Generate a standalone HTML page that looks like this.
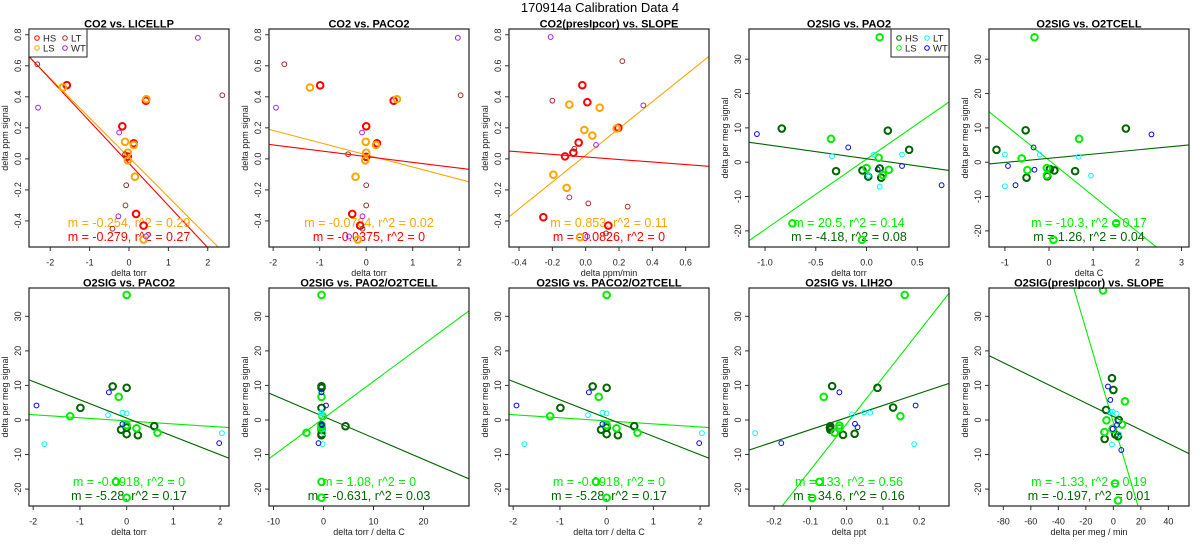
<!DOCTYPE html>
<html><head><meta charset="utf-8">
<style>
html,body{margin:0;padding:0;background:#fff;overflow:hidden;width:1200px;height:550px;}
svg{display:block;font-family:"Liberation Sans",Arial,sans-serif;}
</style></head>
<body>
<svg id="fig" width="1200" height="550" viewBox="0 0 1200 550">
<text x="600" y="12" text-anchor="middle" font-size="13" fill="#000">170914a   Calibration Data 4</text>
</svg>
<script>
// ---- colors ----
const CO2_COLORS = ["#ff0000","#ffa500","#a52a2a","#a020f0"]; // HS, LS, LT, WT
const O2_COLORS = ["#006400","#00ee00","#00ffff","#0000ff"];
const GROUPS = ["HS","LS","LT","WT"];

// ---- panel 1: CO2 vs LICELLP ----
const P1_HS = [[-1.58,0.475],[-0.17,0.21],[0.12,0.10],[-0.03,0.015],[0.43,0.375],[0.18,-0.355],[0.37,-0.43]];
const P1_LS = [[-1.68,0.46],[0.44,0.385],[-0.1,0.11],[0.12,0.09],[-0.03,0.04],[-0.03,-0.01],[0.15,-0.115],[0.37,-0.52]];
const P1_LT = [[-2.33,0.61],[2.37,0.41],[-0.1,0.03],[-0.09,-0.30],[-0.42,-0.45],[-0.07,-0.17]];
const P1_WT = [[1.75,0.78],[-2.31,0.33],[-0.25,0.17],[-0.27,-0.37],[0.43,-0.5]];
const P1_FITS = [[-0.255,0.009],[-0.2715,-0.029]];
const P1_TEXT = ["m = -0.254, r^2 = 0.29","m = -0.279, r^2 = 0.27"];

// ---- panel 2: CO2 vs PACO2 ----
const P2_HS = [[-0.99,0.474],[0.59,0.375],[0,0.21],[0.23,0.10],[0,0.013],[-0.3,-0.355],[-0.13,-0.43]];
const P2_LS = [[-1.21,0.46],[0.66,0.385],[-0.01,0.11],[0.21,0.09],[0,0.04],[-0.02,-0.01],[-0.23,-0.115],[-0.18,-0.52]];
const P2_LT = [[-1.76,0.61],[2.03,0.41],[-0.39,0.03],[0,-0.30],[-0.08,-0.45],[0,-0.17]];
const P2_WT = [[1.97,0.78],[-1.94,0.33],[-0.09,0.17],[-0.08,-0.37],[-0.37,-0.5]];
const P2_FITS = [[-0.0786,0.026],[-0.0374,0.015]];
const P2_TEXT = ["m = -0.0784, r^2 = 0.02","m = -0.0375, r^2 = 0"];

// ---- panel 3: CO2(presIpcor) vs SLOPE ----
const P3_HS = [[-0.254,-0.376],[-0.124,0.016],[-0.074,0.04],[-0.042,0.105],[-0.02,0.475],[0.01,0.365],[0.196,0.2],[0.136,-0.43]];
const P3_LS = [[-0.194,-0.102],[-0.114,-0.187],[-0.098,0.35],[-0.008,0.186],[0.04,0.15],[0.084,0.33],[0.186,0.196],[-0.034,-0.505]];
const P3_LT = [[-0.2,0.375],[0.22,0.63],[-0.068,0.065],[0.252,-0.308],[0.122,-0.48],[0.016,-0.287]];
const P3_WT = [[-0.21,0.785],[0.346,0.345],[0.062,0.09],[-0.098,-0.248],[0.01,-0.5]];
const P3_FITS = [[0.8625,0.023],[-0.082,0.0125]];
const P3_TEXT = ["m = 0.853, r^2 = 0.11","m = -0.0826, r^2 = 0"];

// ---- panel 4: O2SIG vs PAO2 ----
const P4_HS = [[-0.835,9.8],[-0.30,-2.6],[-0.04,-2.4],[0.017,-4.2],[0.13,-1.8],[0.145,-4.5],[0.21,9.2],[0.42,3.6]];
const P4_LS = [[0.13,36.4],[-0.35,6.8],[0,-1.7],[0.12,1.3],[0.16,-3.7],[0.22,-2.2],[-0.73,-17.8],[-0.045,-22.6]];
const P4_LT = [[-0.34,1.7],[0.35,2.2],[0.02,-3.9],[0.13,-7.1],[0.07,2.2]];
const P4_WT = [[-1.08,8.2],[-0.18,4.3],[0.35,-1.1],[0.74,-6.7],[0.11,-2.1]];
const P4_FITS = [[20.5,0.89],[-4.16,0.99]];
const P4_TEXT = ["m = 20.5, r^2 = 0.14","m = -4.18, r^2 = 0.08"];

// ---- panel 5: O2SIG vs O2TCELL ----
const P5_HS = [[-1.19,3.6],[-0.53,9.3],[-0.51,-4.5],[-0.04,-4.1],[0.02,-2.0],[0.12,-2.4],[0.59,-2.6],[1.74,9.8]];
const P5_LS = [[-0.33,36.4],[-0.62,1.1],[-0.49,-2.3],[-0.05,-1.7],[-0.05,-3.8],[0.68,6.8],[1.52,-17.8],[0.1,-22.6]];
const P5_LT = [[-1.0,2.2],[-1.0,-7.0],[0.67,1.6],[0.95,-3.9],[-0.21,2.2]];
const P5_WT = [[-0.93,-1.1],[-0.35,4.3],[-0.33,-2.2],[-0.76,-6.7],[2.32,8.1]];
const P5_FITS = [[-10.4,0.56],[1.22,1.15]];
const P5_TEXT = ["m = -10.3, r^2 = 0.17","m = 1.26, r^2 = 0.04"];

// ---- panel 6 / 8: O2SIG vs PACO2 ----
const P6_HS = [[-0.99,3.5],[-0.3,9.7],[0,9.3],[-0.12,-2.8],[0,-2.2],[0,-4.1],[0.24,-4.4],[0.59,-1.8]];
const P6_LS = [[0,36.2],[-0.17,6.7],[-1.21,1.1],[0,-1.5],[0.21,-2.4],[0.66,-3.7],[-0.23,-17.9],[0,-22.5]];
const P6_LT = [[-1.76,-7.0],[-0.4,1.4],[-0.09,2.1],[2.04,-3.8],[0,1.9]];
const P6_WT = [[-1.93,4.2],[-0.38,8.0],[-0.09,-1.2],[1.98,-6.7]];
const P6_FITS = [[-0.89,-0.26],[-5.3,0.54]];
const P6_TEXT = ["m = -0.0918, r^2 = 0","m = -5.28, r^2 = 0.17"];

// ---- panel 7: O2SIG vs PAO2/O2TCELL ----
const P7_HS = [[-0.4,9.8],[-0.4,9.3],[-0.4,3.5],[-0.4,-2.8],[-0.4,-4.1],[-0.4,-2.2],[-0.4,-4.4],[4.4,-1.8]];
const P7_LS = [[-0.4,36.2],[-0.4,6.7],[-0.2,1.1],[-3.4,-3.7],[-0.4,-2.4],[-0.4,-1.5],[-0.4,-17.9],[-0.4,-22.5]];
const P7_LT = [[-0.4,2.2],[-0.2,-7.0],[0,-3.8],[-0.4,1.4],[-0.4,1.9]];
const P7_WT = [[-0.4,8.0],[0.5,4.2],[-0.4,-1.2],[-1,-6.7],[-0.3,-1.5]];
const P7_FITS = [[1.07,0.46],[-0.62,1.0]];
const P7_TEXT = ["m = 1.08, r^2 = 0","m = -0.631, r^2 = 0.03"];

// ---- panel 9: O2SIG vs LIH2O ----
const P9_HS = [[-0.04,9.8],[0.085,9.3],[0.128,3.6],[-0.046,-2.3],[-0.045,-1.8],[-0.01,-4.3],[0.022,-4.0],[-0.045,-2.8]];
const P9_LS = [[0.16,36.2],[-0.063,6.7],[0.148,1.1],[-0.02,-1.6],[-0.02,-2.4],[-0.033,-3.7],[-0.075,-17.9],[-0.095,-22.6]];
const P9_LT = [[-0.252,-3.8],[0.015,1.6],[0.065,2.1],[0.186,-7.0],[0.048,2.2]];
const P9_WT = [[-0.18,-6.7],[-0.02,8.0],[0.023,-1.1],[0.03,-2.1],[0.19,4.2]];
const P9_FITS = [[134,-1.1],[35,0.7]];
const P9_TEXT = ["m = 133, r^2 = 0.56","m = 34.6, r^2 = 0.16"];

// ---- panel 10: O2SIG(presIpcor) vs SLOPE ----
const P10_HS = [[-1,12.1],[0,8.7],[-5.3,2.9],[3.9,0],[1.4,-4.2],[3.4,-4.7],[-0.5,-2.6],[-6.3,-5.5]];
const P10_LS = [[-7.5,37.5],[8.4,5.4],[-5,-0.1],[-6.5,-3.5],[6.3,-1.3],[1.2,-18.4],[3.4,-23.3],[-0.5,-2.6]];
const P10_LT = [[-2.2,2.3],[2.4,1.8],[4.3,-4.1],[-1,-7.1],[-0.5,2.4]];
const P10_WT = [[-3.9,9.7],[-2.2,5.8],[2.7,-1.4],[-0.5,-2.6],[5.8,-8.7]];
const P10_FITS = [[-1.35,-0.7],[-0.195,1.0]];
const P10_TEXT = ["m = -1.33, r^2 = 0.19","m = -0.197, r^2 = 0.01"];

// ---- axis tick labels ----
const CO2_YTICKS = [-0.4,-0.2,0.0,0.2,0.4,0.6,0.8];
const CO2_YLABELS = ["-0.4","-0.2","0.0","0.2","0.4","0.6","0.8"];
const O2_YTICKS = [-20,-10,0,10,20,30];
const TORR_XTICKS = [-2,-1,0,1,2];
const SLOPE_XTICKS = [-0.4,-0.2,0,0.2,0.4,0.6];
const SLOPE_XLABELS = ["-0.4","-0.2","0.0","0.2","0.4","0.6"];
const PAO2_XTICKS = [-1.0,-0.5,0,0.5];
const PAO2_XLABELS = ["-1.0","-0.5","0.0","0.5"];
const TCELL_XTICKS = [-1,0,1,2,3];
const RATIO_XTICKS = [-10,0,10,20];
const H2O_XTICKS = [-0.2,-0.1,0,0.1,0.2];
const H2O_XLABELS = ["-0.2","-0.1","0.0","0.1","0.2"];
const MEG_XTICKS = [-80,-60,-40,-20,0,20,40];

const NS = "http://www.w3.org/2000/svg";
const svg = document.getElementById("fig");
function mk(tag, attrs, parent){
  const e = document.createElementNS(NS, tag);
  for (const k in attrs) e.setAttribute(k, attrs[k]);
  (parent||svg).appendChild(e);
  return e;
}

const panels = [
  {col:0,row:0,title:"CO2 vs. LICELLP",xd:[-2.54,2.54],yd:[-0.568,0.837],xt:TORR_XTICKS,xl:null,yt:CO2_YTICKS,yl:CO2_YLABELS,xlab:"delta torr",ylab:"delta ppm signal",pts:[P1_HS,P1_LS,P1_LT,P1_WT],fits:P1_FITS,txt:P1_TEXT,co2:true,legend:"left"},
  {col:1,row:0,title:"CO2 vs. PACO2",xd:[-2.09,2.21],yd:[-0.568,0.837],xt:TORR_XTICKS,xl:null,yt:CO2_YTICKS,yl:CO2_YLABELS,xlab:"delta torr",ylab:"delta ppm signal",pts:[P2_HS,P2_LS,P2_LT,P2_WT],fits:P2_FITS,txt:P2_TEXT,co2:true},
  {col:2,row:0,title:"CO2(presIpcor) vs. SLOPE",xd:[-0.46,0.74],yd:[-0.568,0.837],xt:SLOPE_XTICKS,xl:SLOPE_XLABELS,yt:CO2_YTICKS,yl:CO2_YLABELS,xlab:"delta ppm/min",ylab:"delta ppm signal",pts:[P3_HS,P3_LS,P3_LT,P3_WT],fits:P3_FITS,txt:P3_TEXT,co2:true},
  {col:3,row:0,title:"O2SIG vs. PAO2",xd:[-1.158,0.813],yd:[-24.7,38.8],xt:PAO2_XTICKS,xl:PAO2_XLABELS,yt:O2_YTICKS,yl:null,xlab:"delta torr",ylab:"delta per meg signal",pts:[P4_HS,P4_LS,P4_LT,P4_WT],fits:P4_FITS,txt:P4_TEXT,co2:false,legend:"right"},
  {col:4,row:0,title:"O2SIG vs. O2TCELL",xd:[-1.36,3.17],yd:[-24.7,38.8],xt:TCELL_XTICKS,xl:null,yt:O2_YTICKS,yl:null,xlab:"delta C",ylab:"delta per meg signal",pts:[P5_HS,P5_LS,P5_LT,P5_WT],fits:P5_FITS,txt:P5_TEXT,co2:false},
  {col:0,row:1,title:"O2SIG vs. PACO2",xd:[-2.09,2.19],yd:[-24.9,38.2],xt:TORR_XTICKS,xl:null,yt:O2_YTICKS,yl:null,xlab:"delta torr",ylab:"delta per meg signal",pts:[P6_HS,P6_LS,P6_LT,P6_WT],fits:P6_FITS,txt:P6_TEXT,co2:false},
  {col:1,row:1,title:"O2SIG vs. PAO2/O2TCELL",xd:[-10.9,29.1],yd:[-24.9,38.2],xt:RATIO_XTICKS,xl:null,yt:O2_YTICKS,yl:null,xlab:"delta torr / delta C",ylab:"delta per meg signal",pts:[P7_HS,P7_LS,P7_LT,P7_WT],fits:P7_FITS,txt:P7_TEXT,co2:false},
  {col:2,row:1,title:"O2SIG vs. PACO2/O2TCELL",xd:[-2.09,2.19],yd:[-24.9,38.2],xt:TORR_XTICKS,xl:null,yt:O2_YTICKS,yl:null,xlab:"delta torr / delta C",ylab:"delta per meg signal",pts:[P6_HS,P6_LS,P6_LT,P6_WT],fits:P6_FITS,txt:P6_TEXT,co2:false},
  {col:3,row:1,title:"O2SIG vs. LIH2O",xd:[-0.269,0.282],yd:[-24.9,38.2],xt:H2O_XTICKS,xl:H2O_XLABELS,yt:O2_YTICKS,yl:null,xlab:"delta ppt",ylab:"delta per meg signal",pts:[P9_HS,P9_LS,P9_LT,P9_WT],fits:P9_FITS,txt:P9_TEXT,co2:false},
  {col:4,row:1,title:"O2SIG(presIpcor) vs. SLOPE",xd:[-90.4,55],yd:[-24.9,38.2],xt:MEG_XTICKS,xl:null,yt:O2_YTICKS,yl:null,xlab:"delta per meg / min",ylab:"delta per meg signal",pts:[P10_HS,P10_LS,P10_LT,P10_WT],fits:P10_FITS,txt:P10_TEXT,co2:false}
];

panels.forEach((p, idx) => {
  const L = 29 + 240*p.col, R = L + 200;
  const T = p.row ? 288 : 29, B = p.row ? 506 : 247;
  const sx = v => L + (v - p.xd[0])/(p.xd[1]-p.xd[0])*(R-L);
  const sy = v => B - (v - p.yd[0])/(p.yd[1]-p.yd[0])*(B-T);
  const cols = p.co2 ? CO2_COLORS : O2_COLORS;
  const g = mk("g", {});
  
  

  const clipId = "clip" + idx;
  const cp = mk("clipPath", {id: clipId}, g);
  mk("rect", {x:L, y:T, width:R-L, height:B-T}, cp);

  const t = mk("text", {x:(L+R)/2, y:T-1.5, "text-anchor":"middle", "font-size":"11", "font-weight":"bold"}, g);
  t.textContent = p.title;
  
  

  // x ticks
  p.xt.forEach((v, i) => {
    const x = sx(v);
    const tk = mk("line", {x1:x, x2:x, y1:B, y2:B+4, stroke:"#333", "stroke-width":"1"}, g);
    
    
    const lb = mk("text", {x:x, y:B+18.5, "text-anchor":"middle", "font-size":"9", fill:"#222"}, g);
    lb.textContent = p.xl ? p.xl[i] : String(v);
    
    
  });
  const xaxis = mk("line", {x1:sx(p.xt[0]), x2:sx(p.xt[p.xt.length-1]), y1:B, y2:B, stroke:"#333"}, g);
  
  
  const xl = mk("text", {x:(L+R)/2, y:B+29, "text-anchor":"middle", "font-size":"9", fill:"#222"}, g);
  xl.textContent = p.xlab;
  
  

  // y ticks
  p.yt.forEach((v, i) => {
    const y = sy(v);
    const tk = mk("line", {x1:L-4, x2:L, y1:y, y2:y, stroke:"#333"}, g);
    
    
    const lb = mk("text", {x:0, y:0, "text-anchor":"middle", "font-size":"9", fill:"#222", transform:`translate(${L-8},${y}) rotate(-90)`}, g);
    lb.textContent = p.yl ? p.yl[i] : String(v);
    
    
  });
  const yl = mk("text", {x:0, y:0, "text-anchor":"middle", "font-size":"9", fill:"#222", transform:`translate(${L-21},${(T+B)/2}) rotate(-90)`}, g);
  yl.textContent = p.ylab;
  
  

  // fit lines
  const fitCols = [cols[1], cols[0]];
  p.fits.forEach((f, i) => {
    const x0 = p.xd[0], x1 = p.xd[1];
    const ln = mk("line", {x1:sx(x0), y1:sy(f[1]+f[0]*x0), x2:sx(x1), y2:sy(f[1]+f[0]*x1), stroke:fitCols[i], "stroke-width":"1.1", "clip-path":`url(#${clipId})`}, g);
    
    
  });

  // stats text
  p.txt.forEach((s, i) => {
    const tx = mk("text", {x:(L+R)/2, y:B-20+i*14, "text-anchor":"middle", "font-size":"12.5", fill:fitCols[i]}, g);
    tx.textContent = s;
    
    
  });

  // points
  p.pts.forEach((arr, gi) => {
    const thick = gi < 2;
    arr.forEach(d => {
      const c = mk("circle", {cx:sx(d[0]), cy:sy(d[1]), r: thick?3.3:2.4, fill:"none", stroke:cols[gi], "stroke-width": thick?2:1, "clip-path":`url(#${clipId})`}, g);
      
      
    });
  });

  // box
  const box = mk("rect", {x:L, y:T, width:R-L, height:B-T, fill:"none", stroke:"#222", "stroke-width":"1.2"}, g);
  
  

  // legend
  if (p.legend) {
    const lx = p.legend === "left" ? L : R - 58;
    const lg = mk("g", {}, g);
    
    
    mk("rect", {x:lx, y:T, width:58, height:28, fill:"#fff", stroke:"#222", "stroke-width":"1"}, lg);
    const labs = ["HS","LT","LS","WT"], ci = [0,2,1,3];
    labs.forEach((s, k) => {
      const cx = lx + 8 + (k%2)*28, cy = T + 9 + Math.floor(k/2)*10;
      const c = mk("circle", {cx:cx, cy:cy, r:2.3, fill:"none", stroke:cols[ci[k]], "stroke-width":"1"}, lg);
      
      
      const tx = mk("text", {x:cx+6, y:cy+3.5, "font-size":"9.5", fill:"#222"}, lg);
      tx.textContent = s;
      
      
    });
  }
});
</script>
</body></html>
